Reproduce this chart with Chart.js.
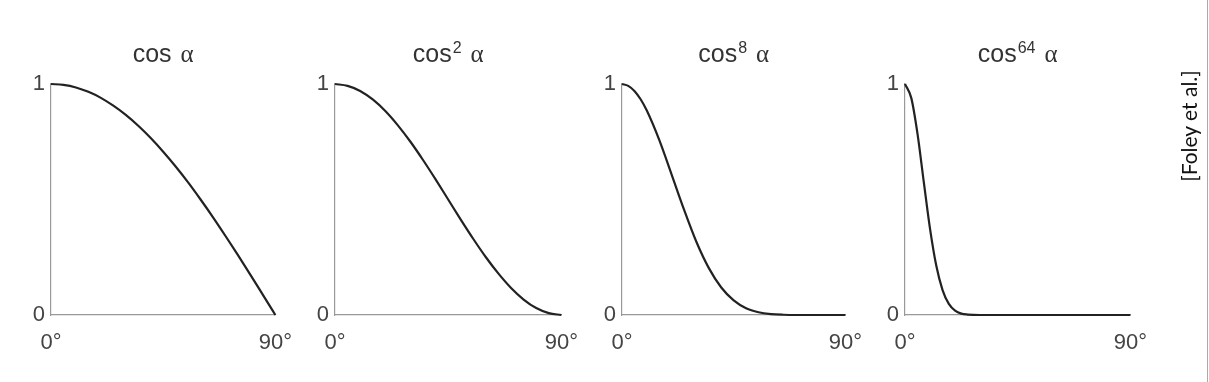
<!DOCTYPE html>
<html>
<head>
<meta charset="utf-8">
<script src="https://cdn.jsdelivr.net/npm/chart.js@4.4.1/dist/chart.umd.min.js"></script>
<style>
  body { margin: 0; background: #fff; }
  #wrap { position: relative; width: 1209px; height: 382px; overflow: hidden; }
  #wrap canvas { position: absolute; }
  #credit {
    position: absolute; left: 1188px; top: 126px;
    transform: translate(-50%, -50%) rotate(-90deg);
    font-family: "Lato", "Open Sans", sans-serif; font-size: 21px; color: #111;
    white-space: nowrap;
  }
  #edge { position: absolute; left: 1207px; top: 0; width: 0; height: 382px; border-left: 1px solid #aaa; }
</style>
</head>
<body>
<div id="wrap">
  <canvas id="c1"></canvas>
  <canvas id="c2"></canvas>
  <canvas id="c3"></canvas>
  <canvas id="c4"></canvas>
  <div id="credit">[Foley et al.]</div>
  <div id="edge"></div>
</div>
<script>
// titles: base, exponent, tail
var titleBase = ["cos", "cos", "cos", "cos"];
var titleExp = ["", "2", "8", "64"];
var titleTail = ["\u03b1", "\u03b1", "\u03b1", "\u03b1"];
var xTickLabels = ["0\u00b0", "90\u00b0"];
var yTickLabels = ["0", "1"];

// values (angle in degrees -> intensity)
var angles = [0, 5, 10, 15, 20, 25, 30, 35, 40, 45, 50, 55, 60, 65, 70, 75, 80, 85, 90];
var cos1 = [1, 0.996, 0.985, 0.966, 0.94, 0.906, 0.866, 0.819, 0.766, 0.707, 0.643, 0.574, 0.5, 0.423, 0.342, 0.259, 0.174, 0.087, 0];
var cos2 = [1, 0.992, 0.97, 0.933, 0.883, 0.821, 0.75, 0.671, 0.587, 0.5, 0.413, 0.329, 0.25, 0.179, 0.117, 0.067, 0.03, 0.008, 0];

var anglesMid = [0, 2.5, 5, 7.5, 10, 15, 20, 25, 30, 35, 40, 45, 50, 55, 60, 65, 70, 75, 80, 85, 90];
var cos8 = [1, 0.992, 0.97, 0.934, 0.885, 0.758, 0.608, 0.456, 0.316, 0.203, 0.119, 0.063, 0.029, 0.012, 0.004, 0.001, 0, 0, 0, 0, 0];

var anglesFine = [0, 2.5, 5, 7.5, 10, 12.5, 15, 17.5, 20, 22.5, 25, 30, 40, 50, 60, 70, 80, 90];
var cos64 = [1, 0.94, 0.784, 0.576, 0.373, 0.213, 0.108, 0.048, 0.019, 0.006, 0.002, 0, 0, 0, 0, 0, 0, 0];

// plot-area edges in the page, one per panel
var axisLeft = [51, 335, 622, 905];
var axisRight = [277, 563, 847, 1132];
var plotTop = 84, plotBottom = 315;
var canvasTop = 28;
var yAxisW = 45, padRight = 30, xAxisH = 42;

var panels = [
  {x: angles, y: cos1},
  {x: angles, y: cos2},
  {x: anglesMid, y: cos8},
  {x: anglesFine, y: cos64}
];

var font = "'Liberation Sans', Arial, sans-serif";
var alphaFont = "'Liberation Serif', 'DejaVu Serif', serif";

// draws "cos^n α" centred over the plot area
var powerTitle = {
  id: "powerTitle",
  afterDraw: function(chart, args, opts) {
    var ctx = chart.ctx;
    var big = "25px " + font, small = "16px " + font, greek = "25px " + alphaFont;
    ctx.save();
    ctx.fillStyle = "#333";
    ctx.textBaseline = "alphabetic";
    ctx.textAlign = "left";
    ctx.font = big;
    var wBase = ctx.measureText(opts.base).width;
    var wSpace = ctx.measureText(" ").width + 2;
    ctx.font = small;
    var wExp = opts.exp ? ctx.measureText(opts.exp).width + 1 : 0;
    ctx.font = greek;
    var wTail = ctx.measureText(opts.tail).width;
    var total = wBase + wExp + wSpace + wTail;
    var x = (chart.chartArea.left + chart.chartArea.right) / 2 - total / 2;
    var y = opts.baseline;
    ctx.font = big;
    ctx.fillText(opts.base, x, y);
    if (opts.exp) {
      ctx.font = small;
      ctx.fillText(opts.exp, x + wBase + 1, y - 9);
    }
    ctx.font = greek;
    ctx.fillText(opts.tail, x + wBase + wExp + wSpace, y);
    ctx.restore();
  }
};

for (var i = 0; i < 4; i++) {
  var cv = document.getElementById("c" + (i + 1));
  var w = axisRight[i] - axisLeft[i] + yAxisW + padRight;
  var h = plotBottom + xAxisH - canvasTop;
  cv.style.left = (axisLeft[i] - yAxisW) + "px";
  cv.style.top = canvasTop + "px";
  cv.style.width = w + "px";
  cv.style.height = h + "px";
  cv.width = w; cv.height = h;

  var pts = panels[i].x.map(function(a, k) { return {x: a, y: this[k]}; }, panels[i].y);

  new Chart(cv.getContext("2d"), {
    type: "line",
    data: {
      datasets: [{
        data: pts,
        borderColor: "#222",
        borderWidth: 2.2,
        pointRadius: 0,
        cubicInterpolationMode: "monotone",
        fill: false,
        clip: false
      }]
    },
    plugins: [powerTitle],
    options: {
      responsive: false,
      animation: false,
      devicePixelRatio: 1,
      layout: { padding: { left: 0, right: padRight, top: plotTop - canvasTop, bottom: 0 } },
      plugins: {
        legend: { display: false },
        tooltip: { enabled: false },
        title: { display: false },
        powerTitle: { base: titleBase[i], exp: titleExp[i], tail: titleTail[i], baseline: 62 - canvasTop }
      },
      scales: {
        x: {
          type: "linear", min: 0, max: 90,
          afterBuildTicks: function(s) { s.ticks = [{value: 0}, {value: 90}]; },
          afterFit: function(s) { s.height = xAxisH; },
          grid: { display: false, drawTicks: false },
          border: { display: true, color: "#999", width: 1.2 },
          ticks: {
            padding: 15,
            color: "#444",
            font: { family: font, size: 22 },
            maxRotation: 0,
            callback: function(v) { return v === 0 ? xTickLabels[0] : xTickLabels[1]; }
          }
        },
        y: {
          type: "linear", min: 0, max: 1,
          afterBuildTicks: function(s) { s.ticks = [{value: 0}, {value: 1}]; },
          afterFit: function(s) { s.width = yAxisW; },
          grid: { display: false, drawTicks: false },
          border: { display: true, color: "#999", width: 1.2 },
          ticks: {
            padding: 6,
            color: "#444",
            font: { family: font, size: 22 },
            callback: function(v) { return v === 0 ? yTickLabels[0] : yTickLabels[1]; }
          }
        }
      }
    }
  });
}
</script>
</body>
</html>
